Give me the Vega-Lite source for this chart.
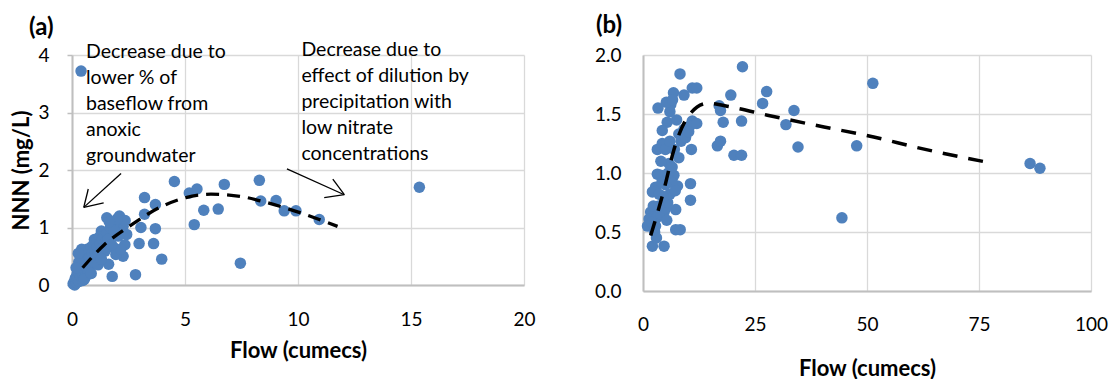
{
  "$schema": "https://vega.github.io/schema/vega-lite/v6.json",
  "background": "white",
  "padding": {"left": 10, "top": 14, "right": 5, "bottom": 0},
  "spacing": 58,
  "config": {
    "font": "Lato",
    "view": {"stroke": null},
    "axis": {
      "labelFont": "Lato", "labelFontSize": 19, "labelColor": "#000000",
      "titleFont": "Lato", "titleFontSize": 22, "titleFontWeight": "bold", "titleColor": "#000000",
      "gridColor": "#d9d9d9", "gridWidth": 1.3, "domainColor": "#bfbfbf", "domainWidth": 2,
      "ticks": false, "labelOverlap": false
    },
    "title": {"font": "Lato", "fontSize": 24, "fontWeight": "bold", "color": "#000000"}
  },
  "datasets": {
    "a_pts": [
      {"x":0.40,"y":3.72},{"x":4.53,"y":1.80},{"x":5.19,"y":1.60},{"x":5.53,"y":1.67},{"x":6.74,"y":1.75},
      {"x":8.29,"y":1.82},{"x":8.35,"y":1.46},{"x":9.03,"y":1.47},{"x":9.39,"y":1.29},{"x":9.91,"y":1.29},
      {"x":10.94,"y":1.14},{"x":15.37,"y":1.70},{"x":5.83,"y":1.30},{"x":6.47,"y":1.32},{"x":5.41,"y":1.05},
      {"x":7.45,"y":0.38},{"x":3.21,"y":1.52},{"x":3.69,"y":1.40},{"x":3.21,"y":1.23},{"x":3.69,"y":0.98},
      {"x":3.05,"y":1.00},{"x":2.97,"y":0.72},{"x":3.61,"y":0.72},{"x":3.97,"y":0.45},{"x":2.81,"y":0.18},
      {"x":1.78,"y":0.15},{"x":1.54,"y":1.17},{"x":2.10,"y":1.20},{"x":2.26,"y":1.02},{"x":2.42,"y":0.88},
      {"x":2.34,"y":0.70},{"x":2.26,"y":0.50},{"x":1.30,"y":0.94},{"x":0.99,"y":0.79},{"x":0.67,"y":0.62},
      {"x":0.43,"y":0.62},{"x":1.46,"y":0.59},{"x":1.62,"y":0.36},{"x":1.94,"y":0.53},{"x":1.90,"y":1.10},
      {"x":2.35,"y":1.12},{"x":2.05,"y":0.85},{"x":1.85,"y":0.65},{"x":2.15,"y":0.62},
      {"x":0.05,"y":0.02},{"x":0.10,"y":0.06},{"x":0.12,"y":0.00},{"x":0.15,"y":0.12},{"x":0.20,"y":0.04},
      {"x":0.22,"y":0.18},{"x":0.25,"y":0.10},{"x":0.30,"y":0.22},{"x":0.32,"y":0.06},{"x":0.35,"y":0.30},
      {"x":0.38,"y":0.15},{"x":0.42,"y":0.36},{"x":0.45,"y":0.22},{"x":0.48,"y":0.08},{"x":0.50,"y":0.42},
      {"x":0.55,"y":0.28},{"x":0.58,"y":0.48},{"x":0.60,"y":0.15},{"x":0.62,"y":0.36},{"x":0.65,"y":0.55},
      {"x":0.70,"y":0.42},{"x":0.72,"y":0.25},{"x":0.75,"y":0.60},{"x":0.80,"y":0.48},{"x":0.82,"y":0.33},
      {"x":0.85,"y":0.66},{"x":0.90,"y":0.55},{"x":0.95,"y":0.40},{"x":0.98,"y":0.72},{"x":1.02,"y":0.60},
      {"x":1.05,"y":0.48},{"x":1.10,"y":0.78},{"x":1.12,"y":0.66},{"x":1.18,"y":0.55},{"x":1.22,"y":0.84},
      {"x":1.25,"y":0.72},{"x":1.35,"y":0.80},{"x":1.40,"y":0.65},{"x":1.50,"y":0.75},{"x":1.55,"y":0.90},
      {"x":0.30,"y":0.40},{"x":0.28,"y":0.55},{"x":0.18,"y":0.30},{"x":0.55,"y":0.10},{"x":0.85,"y":0.20},
      {"x":1.15,"y":0.35},{"x":1.30,"y":0.45},{"x":1.60,"y":0.80},{"x":1.70,"y":1.00},{"x":1.75,"y":0.70},
      {"x":1.85,"y":0.95},{"x":2.00,"y":1.15},{"x":1.65,"y":1.10}
    ],
    "a_trend": [
      {"x":0.47,"y":0.30},{"x":1.43,"y":0.70},{"x":2.46,"y":1.00},{"x":3.94,"y":1.36},{"x":5.04,"y":1.52},
      {"x":6.15,"y":1.58},{"x":7.48,"y":1.54},{"x":8.36,"y":1.46},{"x":9.84,"y":1.29},{"x":10.94,"y":1.14},
      {"x":11.75,"y":1.02}
    ],
    "a_arrows": [
      {"x":2.17,"y":1.94,"x2":0.52,"y2":1.35},
      {"x":0.52,"y":1.35,"x2":0.72,"y2":1.67},
      {"x":0.52,"y":1.35,"x2":1.40,"y2":1.43},
      {"x":9.51,"y":2.02,"x2":12.05,"y2":1.57},
      {"x":12.05,"y":1.57,"x2":11.54,"y2":1.84},
      {"x":12.05,"y":1.57,"x2":11.16,"y2":1.52}
    ],
    "a_notes": [
      {"x":0.62,"y":4.06,"label":"Decrease due to\nlower % of\nbaseflow from\nanoxic\ngroundwater"},
      {"x":10.15,"y":4.09,"label":"Decrease due to\neffect of dilution by\nprecipitation with\nlow nitrate\nconcentrations"}
    ],
    "b_pts": [
      {"x":8.26,"y":1.84},{"x":22.2,"y":1.90},{"x":11.0,"y":1.72},{"x":12.0,"y":1.72},{"x":6.8,"y":1.68},
      {"x":9.15,"y":1.66},{"x":19.6,"y":1.66},{"x":27.6,"y":1.69},{"x":26.7,"y":1.59},{"x":3.35,"y":1.55},
      {"x":6.2,"y":1.58},{"x":6.0,"y":1.52},{"x":17.0,"y":1.57},{"x":17.3,"y":1.53},{"x":33.7,"y":1.53},
      {"x":31.9,"y":1.41},{"x":34.6,"y":1.22},{"x":17.9,"y":1.43},{"x":22.0,"y":1.44},{"x":11.0,"y":1.44},
      {"x":10.5,"y":1.40},{"x":5.4,"y":1.43},{"x":4.3,"y":1.36},{"x":9.15,"y":1.37},{"x":8.0,"y":1.33},
      {"x":16.6,"y":1.23},{"x":17.3,"y":1.27},{"x":20.3,"y":1.15},{"x":22.0,"y":1.15},{"x":3.2,"y":1.20},
      {"x":4.3,"y":1.25},{"x":10.8,"y":1.20},{"x":8.0,"y":1.13},{"x":5.8,"y":1.08},{"x":3.2,"y":0.99},
      {"x":3.95,"y":0.98},{"x":6.9,"y":0.98},{"x":2.8,"y":0.88},{"x":2.1,"y":0.84},{"x":7.7,"y":0.89},
      {"x":10.6,"y":0.91},{"x":10.6,"y":0.77},{"x":7.3,"y":0.69},{"x":1.7,"y":0.67},{"x":1.35,"y":0.61},
      {"x":4.7,"y":0.67},{"x":1.0,"y":0.55},{"x":2.8,"y":0.55},{"x":7.3,"y":0.52},{"x":8.3,"y":0.52},
      {"x":2.1,"y":0.38},{"x":4.7,"y":0.38},{"x":51.3,"y":1.76},{"x":47.7,"y":1.23},{"x":44.4,"y":0.62},
      {"x":86.4,"y":1.08},{"x":88.6,"y":1.04},
      {"x":3.0,"y":0.62},{"x":4.0,"y":0.65},{"x":5.0,"y":0.70},{"x":5.5,"y":0.75},{"x":6.0,"y":0.82},
      {"x":3.5,"y":0.72},{"x":4.5,"y":0.80},{"x":6.5,"y":0.92},{"x":7.2,"y":0.85},{"x":5.0,"y":0.90},
      {"x":5.6,"y":1.00},{"x":6.5,"y":1.05},{"x":4.0,"y":1.10},{"x":7.0,"y":1.20},{"x":8.5,"y":1.27},
      {"x":9.5,"y":1.30},{"x":10.2,"y":1.35},{"x":12.0,"y":1.42},{"x":5.0,"y":1.20},{"x":6.0,"y":1.27},
      {"x":5.2,"y":1.60},{"x":6.6,"y":1.62},{"x":7.5,"y":1.45},{"x":2.3,"y":0.72},{"x":3.6,"y":0.82},
      {"x":2.6,"y":0.50},{"x":3.0,"y":0.45},{"x":2.0,"y":0.58},{"x":4.2,"y":0.92},{"x":5.3,"y":0.60}
    ],
    "b_trend": [
      {"x":1.72,"y":0.47},{"x":4.69,"y":0.86},{"x":6.92,"y":1.20},{"x":10.27,"y":1.49},{"x":14.37,"y":1.59},
      {"x":19.58,"y":1.56},{"x":27.77,"y":1.49},{"x":40.4,"y":1.39},{"x":49.7,"y":1.32},{"x":63.0,"y":1.20},
      {"x":77.0,"y":1.09}
    ]
  },
  "hconcat": [
    {
      "width": 452, "height": 230,
      "title": {"text": "(a)", "anchor": "start", "frame": "group", "dx": -43, "offset": 0},
      "layer": [
        {
          "data": {"name": "a_pts"},
          "mark": {"type": "circle", "size": 132, "color": "#4f81bd", "opacity": 1},
          "encoding": {
            "x": {"field": "x", "type": "quantitative", "scale": {"domain": [0, 20], "nice": false},
              "axis": {"values": [0, 5, 10, 15, 20], "title": "Flow (cumecs)", "labelPadding": 25, "titlePadding": 11, "labelFlush": false}},
            "y": {"field": "y", "type": "quantitative", "scale": {"domain": [0, 4], "nice": false},
              "axis": {"values": [0,0.25,0.5,0.75,1,1.25,1.5,1.75,2,2.25,2.5,2.75,3,3.25,3.5,3.75,4],
                "labelExpr": "datum.value % 1 === 0 ? format(datum.value, 'd') : ''",
                "gridOpacity": {"condition": {"test": "datum.value % 1 === 0", "value": 1}, "value": 0},
                "ticks": true, "tickSize": 5, "tickColor": "#bfbfbf", "tickWidth": 1.5,
                "labelPadding": 18, "title": "NNN (mg/L)", "titlePadding": 4, "labelFlush": false}}
          }
        },
        {
          "data": {"name": "a_trend"},
          "mark": {"type": "line", "color": "#000000", "strokeWidth": 3.3, "strokeDash": [13, 8], "interpolate": "monotone"},
          "encoding": {
            "x": {"field": "x", "type": "quantitative"},
            "y": {"field": "y", "type": "quantitative"}
          }
        },
        {
          "data": {"name": "a_arrows"},
          "mark": {"type": "rule", "color": "#000000", "strokeWidth": 1.3},
          "encoding": {
            "x": {"field": "x", "type": "quantitative"},
            "y": {"field": "y", "type": "quantitative"},
            "x2": {"field": "x2"},
            "y2": {"field": "y2"}
          }
        },
        {
          "data": {"name": "a_notes"},
          "mark": {"type": "text", "align": "left", "baseline": "middle", "fontSize": 19.5, "font": "Lato", "lineHeight": 26, "lineBreak": "\n", "color": "#000000"},
          "encoding": {
            "x": {"field": "x", "type": "quantitative"},
            "y": {"field": "y", "type": "quantitative"},
            "text": {"field": "label"}
          }
        }
      ]
    },
    {
      "width": 448, "height": 236,
      "title": {"text": "(b)", "anchor": "start", "frame": "group", "dx": -47, "offset": 8},
      "layer": [
        {
          "data": {"name": "b_pts"},
          "mark": {"type": "circle", "size": 132, "color": "#4f81bd", "opacity": 1},
          "encoding": {
            "x": {"field": "x", "type": "quantitative", "scale": {"domain": [0, 100], "nice": false},
              "axis": {"values": [0, 25, 50, 75, 100], "title": "Flow (cumecs)", "labelPadding": 24, "titlePadding": 24, "labelFlush": false}},
            "y": {"field": "y", "type": "quantitative", "scale": {"domain": [0, 2], "nice": false},
              "axis": {"values": [0, 0.5, 1, 1.5, 2], "format": ".1f", "labelPadding": 22, "title": null, "labelFlush": false}}
          }
        },
        {
          "data": {"name": "b_trend"},
          "mark": {"type": "line", "color": "#000000", "strokeWidth": 3.5, "strokeDash": [15, 11], "interpolate": "monotone"},
          "encoding": {
            "x": {"field": "x", "type": "quantitative"},
            "y": {"field": "y", "type": "quantitative"}
          }
        }
      ]
    }
  ]
}
